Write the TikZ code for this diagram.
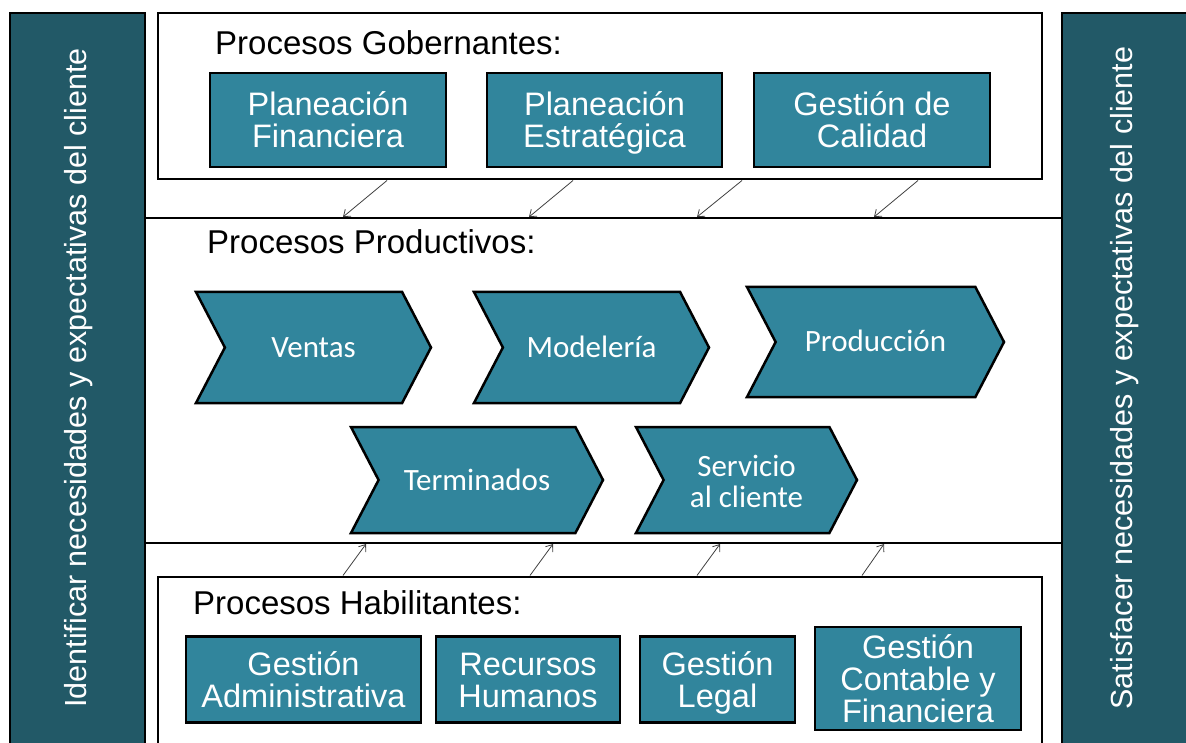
\documentclass[tikz,border=0pt]{standalone}
\usepackage{fontspec}
\setmainfont{Liberation Sans}
\newfontfamily\chevfont{Carlito}
\usetikzlibrary{shapes.symbols,arrows.meta}
\definecolor{panelteal}{RGB}{34,89,103}
\definecolor{boxteal}{RGB}{49,133,156}
\definecolor{arrowgray}{RGB}{64,64,64}
\newcommand{\topstrut}{\rule{0pt}{29pt}}
\newcommand{\botstrut}{\rule[-9pt]{0pt}{9pt}}

\begin{document}
\begin{tikzpicture}[x=1pt,y=-1pt,
  framebox/.style={draw=black, line width=2.5pt, fill=white},
  procbox/.style={draw=black, line width=2.5pt, fill=boxteal, text=white, align=center, inner sep=0pt,
    font=\fontsize{32.5}{32}\selectfont, text height=#1, text depth=9pt},
  procbox/.default=64pt,
  stagechev/.style={signal, signal from=west, signal to=east, signal pointer angle=125, draw=black, line width=2.5pt,
    fill=boxteal, text=white, align=center, inner sep=0pt, font=\chevfont\fontsize{31}{31}\selectfont,
    execute at begin node=\topstrut, execute at end node=\botstrut},
  heading/.style={anchor=base west, inner sep=0pt, font=\fontsize{33}{33}\selectfont},
  sidetext/.style={rotate=90, text=white, inner sep=0pt, font=\fontsize{30.5}{30.5}\selectfont},
  feed/.style={draw=arrowgray, line width=0.8pt, -{Straight Barb[length=6pt,width=9pt]}}
]
  \useasboundingbox (0,0) rectangle (1186,743);
  \clip (0,0) rectangle (1186,743);

  % Side panels
  \filldraw[fill=panelteal, line width=2.5pt] (10,13) rectangle (145,770);
  \filldraw[fill=panelteal, line width=2.5pt] (1062,13) rectangle (1197,770);
  \node[sidetext] (identificar) at (79,378) {Identificar necesidades y expectativas del cliente};
  \node[sidetext] (satisfacer) at (1125,378) {Satisfacer necesidades y expectativas del cliente};

  % Middle band and the two group frames
  \draw[line width=2.5pt] (145,218) -- (1062,218);
  \draw[line width=2.5pt] (145,543) -- (1062,543);
  \draw[framebox] (158,13) rectangle (1042,179);
  \draw[framebox] (158,577) rectangle (1042,770);

  % Headings
  \node[heading] (gobernantes) at (215,55) {Procesos Gobernantes:};
  \node[heading] (productivos) at (207,254) {Procesos Productivos:};
  \node[heading] (habilitantes) at (193,614) {Procesos Habilitantes:};

  % Governing processes
  \node[procbox, minimum width=236pt, minimum height=94pt] (financiera) at (328,120) {Planeación\\Financiera};
  \node[procbox, minimum width=235pt, minimum height=94pt] (estrategica) at (604.5,120) {Planeación\\Estratégica};
  \node[procbox, minimum width=236pt, minimum height=94pt] (calidad) at (872,120) {Gestión de\\Calidad};

  % Productive chain
  \node[stagechev, minimum width=235pt, minimum height=111pt] (ventas) at (313.5,347.5) {Ventas};
  \node[stagechev, minimum width=235pt, minimum height=111pt] (modeleria) at (591.5,347.5) {Modelería};
  \node[stagechev, minimum width=257pt, minimum height=110pt] (produccion) at (875.5,342) {Producción};
  \node[stagechev, minimum width=252pt, minimum height=106pt] (terminados) at (477,480) {Terminados};
  \node[stagechev, minimum width=221pt, minimum height=106pt, text height=64pt, text depth=9pt] (servicio) at (746.5,480) {Servicio\\al cliente};

  % Enabling processes
  \node[procbox=65pt, minimum width=235pt, minimum height=86pt] (administrativa) at (303.5,679.5) {Gestión\\Administrativa};
  \node[procbox=65pt, minimum width=184pt, minimum height=86pt] (humanos) at (528,679.5) {Recursos\\Humanos};
  \node[procbox=65pt, minimum width=155pt, minimum height=86pt] (legal) at (717.5,679.5) {Gestión\\Legal};
  \node[procbox=95pt, text depth=7pt, minimum width=206pt, minimum height=103pt] (contable) at (918,678.5) {Gestión\\Contable y\\Financiera};

  % Feeds into the productive band
  \foreach \sx/\ex [count=\k] in {387/343, 573/529, 742/697, 918/874} {
    \coordinate (gov src \k) at (\sx,180.5);
    \coordinate (gov dst \k) at (\ex,217);
    \draw[feed] (gov src \k) -- (gov dst \k);
  }
  \foreach \sx/\ex [count=\k] in {343/366, 530/553, 697/720, 862/884} {
    \coordinate (hab src \k) at (\sx,575.5);
    \coordinate (hab dst \k) at (\ex,544);
    \draw[feed] (hab src \k) -- (hab dst \k);
  }
\end{tikzpicture}
\end{document}
